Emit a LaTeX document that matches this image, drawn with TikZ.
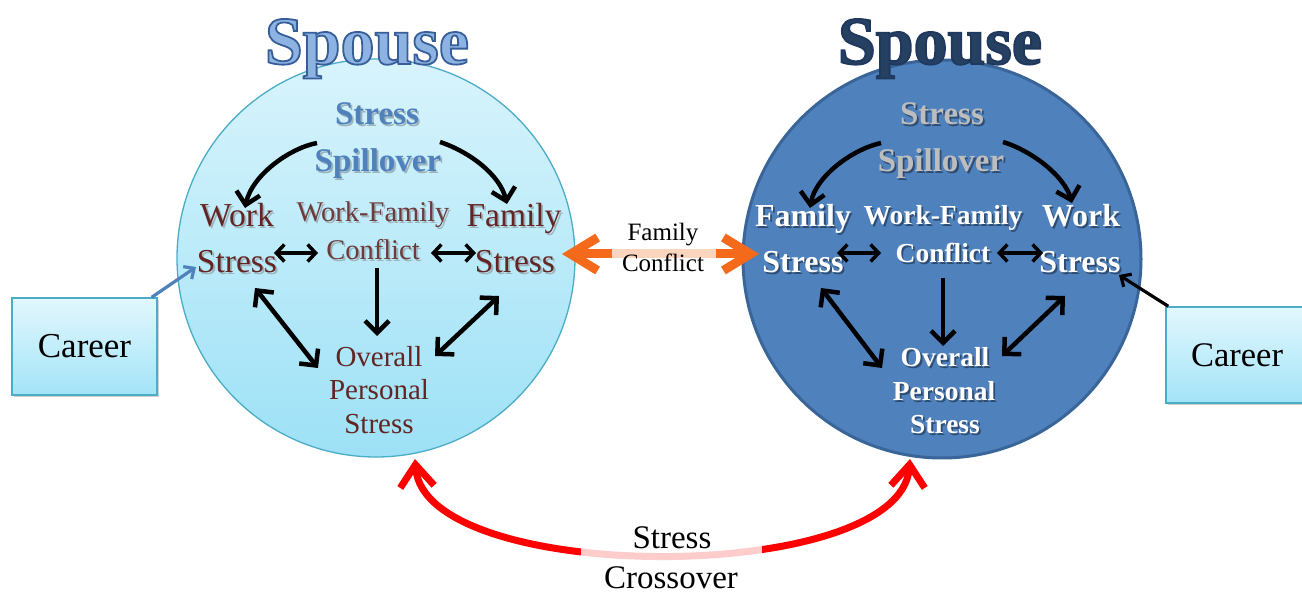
\documentclass[tikz,border=0pt]{standalone}
\usepackage{fontspec}
\setmainfont{Liberation Serif}
\usetikzlibrary{arrows.meta,shadows}
\definecolor{lcA}{HTML}{D8F4FC}
\definecolor{lcB}{HTML}{9DE1F6}
\definecolor{lcEdge}{HTML}{4BACC6}
\definecolor{rcFill}{HTML}{4F81BD}
\definecolor{rcEdge}{HTML}{3A6599}
\definecolor{darkred}{HTML}{632523}
\definecolor{midred}{HTML}{6E3A3A}
\definecolor{spillblue}{HTML}{4F81BD}
\definecolor{spillgray}{HTML}{BDBDBD}
\definecolor{ttlLight}{HTML}{8DB3E2}
\definecolor{ttlDark}{HTML}{254061}
\definecolor{careerA}{HTML}{E2F7FD}
\definecolor{careerB}{HTML}{A3E4F8}
\definecolor{orangeArr}{HTML}{F56A1A}
\definecolor{redArr}{HTML}{FF0000}
\definecolor{blueArr}{HTML}{4F81BD}
\definecolor{shL}{HTML}{9DB4BC}
\definecolor{shR}{HTML}{2E4B70}
\newcommand\fs[1]{\fontsize{#1}{#1}\selectfont}
\newcommand\outl[2]{\special{pdf:literal direct 2 Tr #1 RG 1.8 w}#2\special{pdf:literal direct 0 Tr}}
\newcommand\shd[2]{\makebox[0pt][l]{\kern1.8pt\raisebox{-1.8pt}{\textcolor{#1}{#2}}}#2}
\begin{document}
\begin{tikzpicture}[x=1pt,y=-1pt,
  lbl/.style={inner sep=0pt, anchor=base},
  lredBig/.style={lbl, text=darkred, font=\fs{33.5}},
  lredMid/.style={lbl, text=midred, font=\fs{28.5}},
  lredSm/.style={lbl, text=darkred, font=\fs{29}},
  spillL/.style={lbl, text=spillblue, font=\fs{33}\bfseries},
  spillR/.style={lbl, text=spillgray, font=\fs{33}\bfseries},
  wBig/.style={lbl, text=white, font=\fs{32}\bfseries},
  wMid/.style={lbl, text=white, font=\fs{27.5}\bfseries},
  careerbox/.style={draw=lcEdge, line width=1.5pt, top color=careerA, bottom color=careerB,
     font=\fs{35}, inner sep=0pt, drop shadow={opacity=0.35, shadow xshift=2pt, shadow yshift=-2pt}},
  arrC/.style={line width=4.5pt, -{Straight Barb[length=12pt,width=24pt]}},
  arrD/.style={line width=4.5pt, {Straight Barb[length=12pt,width=24pt]}-{Straight Barb[length=12pt,width=24pt]}},
  arrS/.style={line width=3.5pt, {Straight Barb[length=8pt,width=17pt]}-{Straight Barb[length=8pt,width=17pt]}},
  careerArr/.style={line width=3.2pt, -{Straight Barb[length=8pt,width=15pt]}},
  famArr/.style={orangeArr, line width=9pt, {Straight Barb[length=27pt,width=33pt]}-{Straight Barb[length=27pt,width=33pt]}},
  crossArr/.style={redArr, line width=7pt, {Straight Barb[length=22pt,width=34pt]}-{Straight Barb[length=22pt,width=34pt]}},
  band/.style={white, opacity=0.72}
]
\useasboundingbox (0,0) rectangle (1302,593);
\fill[white] (0,0) rectangle (1302,593);

% circles
\node[circle, minimum size=398pt, inner sep=0pt, top color=lcA, bottom color=lcB, draw=lcEdge, line width=1.3pt] (cL) at (376,258) {};
\node[circle, minimum size=398pt, inner sep=0pt, fill=rcFill, draw=rcEdge, line width=3pt] (cR) at (942,259) {};

% titles
\node[lbl, font=\fs{68}\bfseries, text=ttlLight] (tL) at (367,64) {\outl{0.22 0.37 0.60}{Spouse}};
\node[lbl, font=\fs{68}\bfseries, text=ttlDark] (tR) at (940,64) {\outl{0.12 0.22 0.37}{Spouse}};

% left circle labels
\node[spillL] (sSL1) at (377,125) {\shd{shL}{Stress}};
\node[spillL] (sSL2) at (378,172) {\shd{shL}{Spillover}};
\node[lredBig] (wsL1) at (237,227) {\shd{shL}{Work}};
\node[lredBig] (wsL2) at (237,273) {\shd{shL}{Stress}};
\node[lredMid] (wfL1) at (373,222) {\shd{shL}{Work-Family}};
\node[lredMid] (wfL2) at (373,260) {\shd{shL}{Conflict}};
\node[lredBig] (fsL1) at (514,227) {\shd{shL}{Family}};
\node[lredBig] (fsL2) at (515,273) {\shd{shL}{Stress}};
\node[lredSm] (opL1) at (379,367) {Overall};
\node[lredSm] (opL2) at (379,400) {Personal};
\node[lredSm] (opL3) at (379,434) {Stress};

% right circle labels
\node[spillR] (sSR1) at (942,125) {\shd{shR}{Stress}};
\node[spillR] (sSR2) at (941,172) {\shd{shR}{Spillover}};
\node[wBig] (fsR1) at (803,227) {\shd{shR}{Family}};
\node[wBig] (fsR2) at (803,273) {\shd{shR}{Stress}};
\node[wMid] (wfR1) at (943,225) {\shd{shR}{Work-Family}};
\node[wMid] (wfR2) at (943,263) {\shd{shR}{Conflict}};
\node[wBig] (wsR1) at (1081,227) {\shd{shR}{Work}};
\node[wBig] (wsR2) at (1080,273) {\shd{shR}{Stress}};
\node[wMid] (opR1) at (945,367) {\shd{shR}{Overall}};
\node[wMid] (opR2) at (944,401) {\shd{shR}{Personal}};
\node[wMid] (opR3) at (945,434) {\shd{shR}{Stress}};

% career boxes
\node[careerbox, minimum width=145pt, minimum height=97pt] (carL) at (84.5,346.5) {Career};
\node[careerbox, minimum width=142pt, minimum height=96pt, font=\fs{34.5}] (carR) at (1237,355) {Career};

% arrow end points
\coordinate (lc1s) at (317,143); \coordinate (lc1e) at (245,208);
\coordinate (lc2s) at (440,142); \coordinate (lc2e) at (507,204);
\coordinate (rc1s) at (881,143); \coordinate (rc1e) at (810,208);
\coordinate (rc2s) at (1003,142); \coordinate (rc2e) at (1072,203);
\coordinate (lsa1) at (274,253); \coordinate (lsa2) at (318,253);
\coordinate (lsb1) at (431,253); \coordinate (lsb2) at (476,253);
\coordinate (rsa1) at (837,253); \coordinate (rsa2) at (881,253);
\coordinate (rsb1) at (997,253); \coordinate (rsb2) at (1043,253);
\coordinate (ldn1) at (377,268); \coordinate (ldn2) at (377,336);
\coordinate (rdn1) at (943,278); \coordinate (rdn2) at (943,346);
\coordinate (lda1) at (255,288); \coordinate (lda2) at (318,368);
\coordinate (ldb1) at (499,296); \coordinate (ldb2) at (435,356);
\coordinate (rda1) at (821,288); \coordinate (rda2) at (882,368);
\coordinate (rdb1) at (1065,296); \coordinate (rdb2) at (1002,356);
\coordinate (carLt) at (196,267); \coordinate (carRt) at (1119,275);
\coordinate (famA) at (562,254); \coordinate (famB) at (759,254);
\coordinate (crA) at (415,459); \coordinate (crB) at (910,459);

% spillover curves
\draw[arrC] (lc1s) .. controls (290,148) and (252,175) .. (lc1e);
\draw[arrC] (lc2s) .. controls (470,152) and (500,175) .. (lc2e);
\draw[arrC] (rc1s) .. controls (850,150) and (815,178) .. (rc1e);
\draw[arrC] (rc2s) .. controls (1035,152) and (1065,178) .. (rc2e);

% short double arrows
\draw[arrS] (lsa1) -- (lsa2);
\draw[arrS] (lsb1) -- (lsb2);
\draw[arrS] (rsa1) -- (rsa2);
\draw[arrS] (rsb1) -- (rsb2);

% down arrows
\draw[arrC] (ldn1) -- (ldn2);
\draw[arrC] (rdn1) -- (rdn2);

% diagonal double arrows
\draw[arrD] (lda1) -- (lda2);
\draw[arrD] (ldb1) -- (ldb2);
\draw[arrD] (rda1) -- (rda2);
\draw[arrD] (rdb1) -- (rdb2);

% career arrows
\draw[careerArr, blueArr] (carL.north east) ++(-6,0) coordinate (carLs) -- (carLt);
\draw[careerArr, black] (carR.north west) ++(3,0) coordinate (carRs) -- (carRt);

% family conflict
\draw[famArr] (famA) -- (famB);
\fill[band] (612,244) rectangle (716,265);
\node[lbl, font=\fs{25}] (fc1) at (663,241) {Family};
\node[lbl, font=\fs{25}] (fc2) at (663,272) {Conflict};

% stress crossover
\draw[crossArr] (crA) .. controls (425,586) and (900,586) .. (crB);
\fill[white, opacity=0.8] (581,532) rectangle (762,566);
\node[lbl, font=\fs{33}] (sc1) at (672,548) {Stress};
\node[lbl, font=\fs{33}] (sc2) at (671,588) {Crossover};
\end{tikzpicture}
\end{document}
